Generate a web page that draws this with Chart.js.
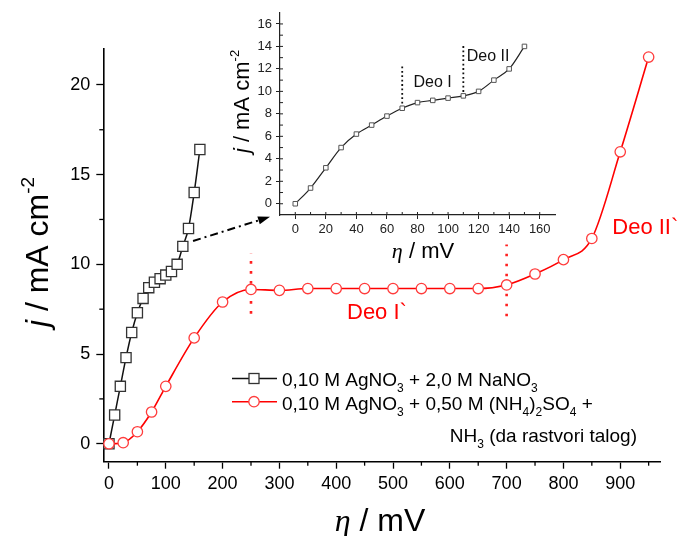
<!DOCTYPE html>
<html><head><meta charset="utf-8">
<script src="https://cdn.jsdelivr.net/npm/chart.js@4.4.0/dist/chart.umd.min.js"></script>
<style>
html,body{margin:0;padding:0;background:#fff;}
#wrap{position:relative;width:678px;height:536px;overflow:hidden;}
#main{position:absolute;left:0;top:0;}
#inset{position:absolute;left:200px;top:0;}
</style></head><body>
<div id="wrap"><canvas id="main" width="678" height="536"></canvas><canvas id="inset" width="370" height="270"></canvas></div>
<script>
// ---- data ----
const nitrateEta = [0,10,20,30,40,50,60,70,80,90,100,110,120,130,140,150,160];
const nitrateJ   = [0,1.6,3.2,4.8,6.2,7.3,8.1,8.7,9.0,9.2,9.4,9.6,10.0,11.0,12.0,14.0,16.4];
const ammoniaEta = [0,25,50,75,100,150,200,250,300,350,400,450,500,550,600,650,700,750,800,850,900,950];
const ammoniaJ   = [0,0.06,0.67,1.77,3.2,5.9,7.9,8.6,8.55,8.65,8.65,8.65,8.65,8.65,8.65,8.65,8.85,9.46,10.26,11.44,16.27,21.55];
const insetEta = [0,10,20,30,40,50,60,70,80,90,100,110,120,130,140,150];
const insetJ   = [0,1.4,3.2,5.0,6.2,7.0,7.8,8.5,9.0,9.2,9.4,9.6,10.0,11.0,12.0,14.0];
const mainXTicks = [0,100,200,300,400,500,600,700,800,900];
const mainXMinor = [50,150,250,350,450,550,650,750,850,950];
const mainYTicks = [0,5,10,15,20];
const mainYMinor = [2.5,7.5,12.5,17.5];
const insetXTicks = [0,20,40,60,80,100,120,140,160];
const insetXMinor = [10,30,50,70,90,110,130,150];
const insetYTicks = [0,2,4,6,8,10,12,14,16];
const insetYMinor = [1,3,5,7,9,11,13,15];
const regionBoundsMain = [250,700];
const regionBoundsInset = [70,110];

const SANS = '"Liberation Sans", Arial, sans-serif';
const SERIF = '"Liberation Serif", "Times New Roman", serif';
const toXY = (xs, ys) => xs.map((v,i)=>({x:v,y:ys[i]}));

function drawRich(ctx, parts, x, y){
  for (const p of parts){ ctx.font = p.f; ctx.fillText(p.t, x, y + (p.dy||0)); x += ctx.measureText(p.t).width; }
  return x;
}
function richWidth(ctx, parts){ let w=0; for (const p of parts){ ctx.font=p.f; w+=ctx.measureText(p.t).width; } return w; }
function seg(ctx,x1,y1,x2,y2){ ctx.beginPath(); ctx.moveTo(x1,y1); ctx.lineTo(x2,y2); ctx.stroke(); }

// ---- main chart decorations ----
const mainDecor = {
  id:'mainDecor',
  beforeDatasetsDraw(chart){
    const {ctx, scales:{x,y}} = chart;
    ctx.save();
    ctx.strokeStyle='#ff2020'; ctx.lineWidth=2.6; ctx.setLineDash([2.6,7.4]); ctx.lineCap='butt';
    const spans=[[7.25,10.6],[7.1,11.1]];
    regionBoundsMain.forEach((v,i)=>{ const px=x.getPixelForValue(v); seg(ctx,px,y.getPixelForValue(spans[i][0]),px,y.getPixelForValue(spans[i][1])); });
    ctx.restore();
  },
  afterDraw(chart){
    const {ctx, chartArea:a, scales:{x,y}} = chart;
    ctx.save();
    // minor ticks (outward)
    ctx.strokeStyle='#000'; ctx.lineWidth=1.3;
    mainXMinor.forEach(v=>{ const px=x.getPixelForValue(v); seg(ctx,px,a.bottom,px,a.bottom+4); });
    mainYMinor.forEach(v=>{ const py=y.getPixelForValue(v); seg(ctx,a.left-4,py,a.left,py); });
    // dash-dot arrow to inset
    const x1=x.getPixelForValue(148), y1=y.getPixelForValue(11.3);
    const x2=x.getPixelForValue(283.5), y2=y.getPixelForValue(12.65);
    const ang=Math.atan2(y2-y1,x2-x1), hl=12;
    ctx.strokeStyle='#000'; ctx.lineWidth=2; ctx.setLineDash([8,4,2,4]);
    seg(ctx,x1,y1,x2-hl*Math.cos(ang),y2-hl*Math.sin(ang));
    ctx.setLineDash([]);
    ctx.fillStyle='#000'; ctx.beginPath();
    ctx.moveTo(x2,y2);
    ctx.lineTo(x2-hl*Math.cos(ang)+4*Math.sin(ang), y2-hl*Math.sin(ang)-4*Math.cos(ang));
    ctx.lineTo(x2-hl*Math.cos(ang)-4*Math.sin(ang), y2-hl*Math.sin(ang)+4*Math.cos(ang));
    ctx.closePath(); ctx.fill();
    // region labels
    ctx.fillStyle='#ff0000'; ctx.font='22px '+SANS; ctx.textBaseline='middle'; ctx.textAlign='left';
    ctx.fillText('Deo I`', x.getPixelForValue(419), y.getPixelForValue(7.3));
    ctx.fillText('Deo II`', x.getPixelForValue(886), y.getPixelForValue(12.0));
    ctx.textBaseline='alphabetic';
    // axis titles
    ctx.fillStyle='#000';
    const xt=[{t:'\u03B7',f:'italic 32px '+SERIF},{t:' / mV',f:'32px '+SANS}];
    drawRich(ctx,xt,380-richWidth(ctx,xt)/2,531);
    const yt=[{t:'j',f:'italic 32px '+SANS},{t:' / mA cm',f:'32px '+SANS},{t:'-2',f:'19px '+SANS,dy:-14}];
    ctx.save(); ctx.translate(48,252); ctx.rotate(-Math.PI/2);
    drawRich(ctx,yt,-richWidth(ctx,yt)/2,0); ctx.restore();
    // legend
    const N='19px '+SANS, S='12px '+SANS;
    const rows=[
      [{t:'0,10 M AgNO',f:N},{t:'3',f:S,dy:6},{t:' + 2,0 M NaNO',f:N},{t:'3',f:S,dy:6}],
      [{t:'0,10 M AgNO',f:N},{t:'3',f:S,dy:6},{t:' + 0,50 M (NH',f:N},{t:'4',f:S,dy:6},{t:')',f:N},{t:'2',f:S,dy:6},{t:'SO',f:N},{t:'4',f:S,dy:6},{t:' +',f:N}],
      [{t:'NH',f:N},{t:'3',f:S,dy:6},{t:' (da rastvori talog)',f:N}]
    ];
    drawRich(ctx,rows[0],282,386);
    drawRich(ctx,rows[1],282,409.5);
    drawRich(ctx,rows[2],637-richWidth(ctx,rows[2]),441.5);
    // legend samples
    ctx.lineWidth=1.5; ctx.strokeStyle='#111';
    seg(ctx,232,378.5,277,378.5);
    ctx.fillStyle='#fff'; ctx.lineWidth=1.3; ctx.strokeStyle='#333';
    ctx.fillRect(249,373.5,10,10); ctx.strokeRect(249,373.5,10,10);
    ctx.lineWidth=1.5; ctx.strokeStyle='#ff0000';
    seg(ctx,232,401.7,277,401.7);
    ctx.beginPath(); ctx.arc(254,401.7,5.2,0,2*Math.PI); ctx.fillStyle='#fff'; ctx.fill();
    ctx.strokeStyle='rgb(255,60,60)'; ctx.lineWidth=1.3; ctx.stroke();
    ctx.restore();
  }
};

new Chart(document.getElementById('main'), {
  type:'line',
  data:{ datasets:[
    { label:'ammonia', data:toXY(ammoniaEta,ammoniaJ), borderColor:'#ff0000', borderWidth:1.6,
      cubicInterpolationMode:'monotone', pointStyle:'circle', pointRadius:5.2, pointBorderWidth:1.3,
      pointBorderColor:'rgb(255,60,60)', pointBackgroundColor:'#fff', clip:false },
    { label:'nitrate', data:toXY(nitrateEta,nitrateJ), borderColor:'#111', borderWidth:1.5,
      cubicInterpolationMode:'monotone', pointStyle:'rect', pointRadius:7.2, pointBorderWidth:1.3,
      pointBorderColor:'#333', pointBackgroundColor:'#fff', clip:false }
  ]},
  options:{
    responsive:false, devicePixelRatio:1, animation:false, events:[],
    layout:{ padding:{top:49,right:18,left:0,bottom:0}, autoPadding:false },
    plugins:{ legend:{display:false}, tooltip:{enabled:false} },
    scales:{
      x:{ type:'linear', min:-10, max:970,
        afterBuildTicks:s=>{ s.ticks=mainXTicks.map(v=>({value:v})); },
        afterFit:s=>{ s.height=74.3; },
        ticks:{ font:{family:SANS,size:18}, color:'#000', padding:5, maxRotation:0, autoSkip:false },
        grid:{ display:true, drawOnChartArea:false, drawTicks:true, tickLength:7, tickColor:'#000', tickWidth:1.3 },
        border:{ display:true, color:'#000', width:1.6 } },
      y:{ type:'linear', min:-1, max:22,
        afterBuildTicks:s=>{ s.ticks=mainYTicks.map(v=>({value:v})); },
        afterFit:s=>{ s.width=103.3; },
        ticks:{ font:{family:SANS,size:18}, color:'#000', padding:6, autoSkip:false },
        grid:{ display:true, drawOnChartArea:false, drawTicks:true, tickLength:7, tickColor:'#000', tickWidth:1.3 },
        border:{ display:true, color:'#000', width:1.6 } }
    }
  },
  plugins:[mainDecor]
});

// ---- inset decorations ----
const insetDecor = {
  id:'insetDecor',
  beforeDatasetsDraw(chart){
    const {ctx, scales:{x,y}} = chart;
    ctx.save();
    ctx.strokeStyle='#111'; ctx.lineWidth=1.8; ctx.setLineDash([1.8,2.6]);
    const spans=[[8.53,12.3],[9.56,14.05]];
    regionBoundsInset.forEach((v,i)=>{ const px=x.getPixelForValue(v); seg(ctx,px,y.getPixelForValue(spans[i][0]),px,y.getPixelForValue(spans[i][1])); });
    ctx.restore();
  },
  afterDraw(chart){
    const {ctx, chartArea:a, scales:{x,y}} = chart;
    ctx.save();
    ctx.strokeStyle='#222'; ctx.lineWidth=1;
    insetXMinor.forEach(v=>{ const px=x.getPixelForValue(v); seg(ctx,px,a.bottom,px,a.bottom-3); });
    insetXTicks.forEach(v=>{ const px=x.getPixelForValue(v); seg(ctx,px,a.bottom,px,a.bottom-3); });
    insetYMinor.forEach(v=>{ const py=y.getPixelForValue(v); seg(ctx,a.left,py,a.left+3,py); });
    insetYTicks.forEach(v=>{ const py=y.getPixelForValue(v); seg(ctx,a.left,py,a.left+3,py); });
    ctx.fillStyle='#111'; ctx.font='16px '+SANS; ctx.textBaseline='middle';
    ctx.fillText('Deo I', x.getPixelForValue(77.4), y.getPixelForValue(10.76));
    ctx.fillText('Deo II', x.getPixelForValue(112.2), y.getPixelForValue(13.07));
    ctx.textBaseline='alphabetic'; ctx.fillStyle='#000';
    const xt=[{t:'\u03B7',f:'italic 22px '+SERIF},{t:' / mV',f:'22px '+SANS}];
    drawRich(ctx,xt,223-richWidth(ctx,xt)/2,258);
    const yt=[{t:'j',f:'italic 22px '+SANS},{t:' / mA cm',f:'22px '+SANS},{t:'-2',f:'13px '+SANS,dy:-10}];
    ctx.save(); ctx.translate(49,101.5); ctx.rotate(-Math.PI/2);
    drawRich(ctx,yt,-richWidth(ctx,yt)/2,0); ctx.restore();
    ctx.restore();
  }
};

new Chart(document.getElementById('inset'), {
  type:'line',
  data:{ datasets:[
    { label:'inset', data:toXY(insetEta,insetJ), borderColor:'#222', borderWidth:1.2,
      cubicInterpolationMode:'monotone', pointStyle:'rect', pointRadius:3.2, pointBorderWidth:1,
      pointBorderColor:'#555', pointBackgroundColor:'#fff', clip:false }
  ]},
  options:{
    responsive:false, devicePixelRatio:1, animation:false, events:[],
    layout:{ padding:{top:12.7,right:15,left:0,bottom:0}, autoPadding:false },
    plugins:{ legend:{display:false}, tooltip:{enabled:false} },
    scales:{
      x:{ type:'linear', min:-10, max:170,
        afterBuildTicks:s=>{ s.ticks=insetXTicks.map(v=>({value:v})); },
        afterFit:s=>{ s.height=55; },
        ticks:{ font:{family:SANS,size:13}, color:'#222', padding:3, maxRotation:0, autoSkip:false },
        grid:{ display:true, drawOnChartArea:false, drawTicks:true, tickLength:4, tickColor:'#222', tickWidth:1 },
        border:{ display:true, color:'#222', width:1.2 } },
      y:{ type:'linear', min:-1, max:17,
        afterBuildTicks:s=>{ s.ticks=insetYTicks.map(v=>({value:v})); },
        afterFit:s=>{ s.width=80; },
        ticks:{ font:{family:SANS,size:13}, color:'#222', padding:4, autoSkip:false },
        grid:{ display:true, drawOnChartArea:false, drawTicks:true, tickLength:4, tickColor:'#222', tickWidth:1 },
        border:{ display:true, color:'#222', width:1.2 } }
    }
  },
  plugins:[insetDecor]
});
</script>
</body></html>
